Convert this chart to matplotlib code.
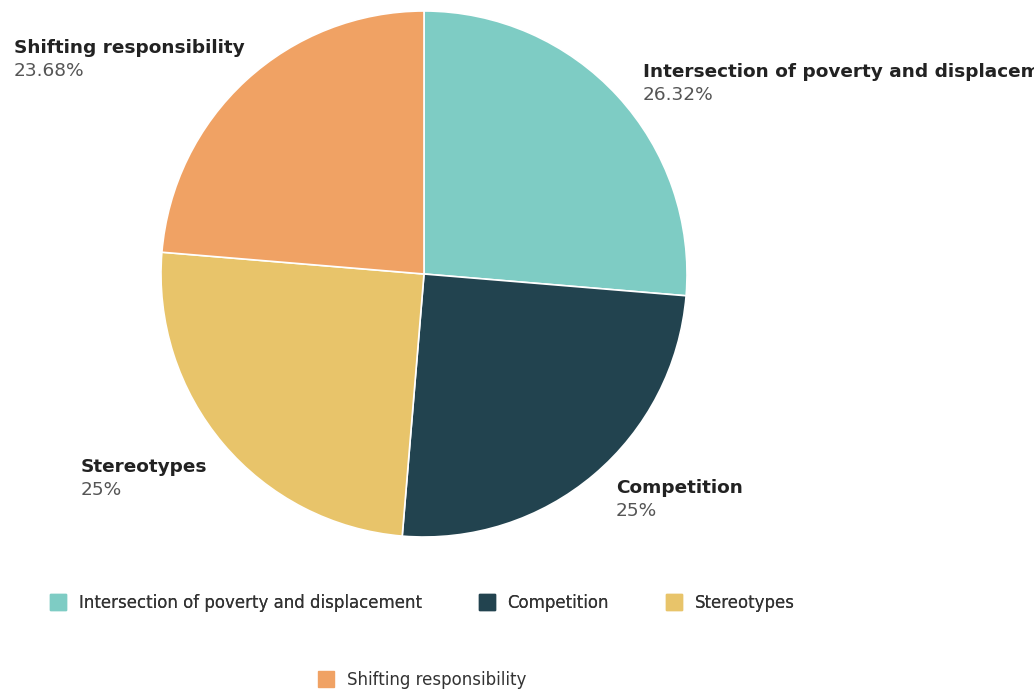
import matplotlib.pyplot as plt
from matplotlib.lines import Line2D

categories = ["Intersection of poverty and displacement", "Competition",
              "Stereotypes", "Shifting responsibility"]
shares = [26.32, 25, 25, 23.68]
pct_labels = ["26.32%", "25%", "25%", "23.68%"]
colors = ["#7ECCC4", "#22434F", "#E8C46A", "#F0A264"]

fig = plt.figure(figsize=(10.34, 6.89), dpi=100)
W, H = 1034, 689

# pie centred at (424, 274) px, radius ~263 px
cx, cy, r = 424, 274, 263
ax = fig.add_axes([(cx - r) / W, (H - cy - r) / H, 2 * r / W, 2 * r / H])
ax.pie(shares, colors=colors, startangle=90, counterclock=False,
       wedgeprops=dict(edgecolor="white", linewidth=1.2))
ax.set_xlim(-1, 1)
ax.set_ylim(-1, 1)
ax.set_aspect("equal")
ax.axis("off")

# label anchors (top-left, in pixels); the first one runs off the right edge
# in the original too
label_pos = [(643, 63), (616, 479), (81, 458), (14, 39)]
for (x, y), name, pct in zip(label_pos, categories, pct_labels):
    fig.text(x / W, 1 - y / H, name, fontsize=13.3, fontweight="bold",
             color="#222222", ha="left", va="top")
    fig.text(x / W, 1 - (y + 23) / H, pct, fontsize=13.3,
             color="#555555", ha="left", va="top")

handles = [Line2D([], [], marker="s", linestyle="", markersize=12,
                  markerfacecolor=c, markeredgecolor=c) for c in colors]

leg1 = fig.legend(handles[:3], categories[:3], ncol=3, loc="center",
                  bbox_to_anchor=(422 / W, 1 - 603 / H), frameon=False,
                  fontsize=12, columnspacing=3.4, handlelength=1.0,
                  handletextpad=0.75, labelcolor="#333333")
fig.add_artist(leg1)
fig.legend(handles[3:], categories[3:], loc="center",
           bbox_to_anchor=(422 / W, 1 - 680 / H), frameon=False,
           fontsize=12, handlelength=1.0, handletextpad=0.75,
           labelcolor="#333333")

fig.savefig("out.png", dpi=100, facecolor="white")
